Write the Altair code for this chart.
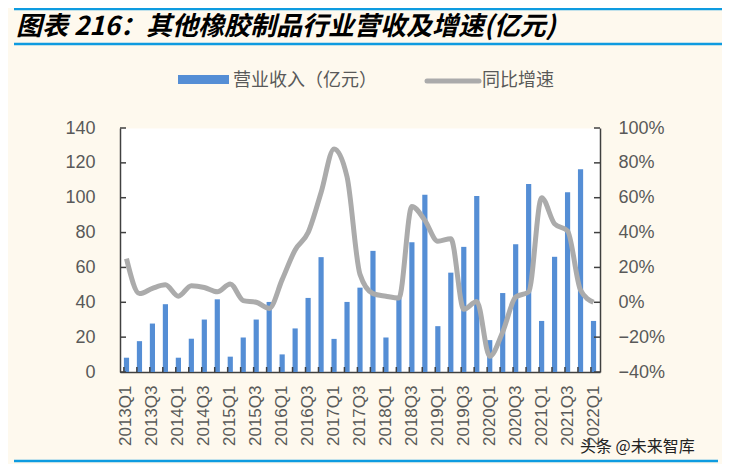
import altair as alt
import pandas as pd

quarters = [
    "2013Q1", "2013Q2", "2013Q3", "2013Q4",
    "2014Q1", "2014Q2", "2014Q3", "2014Q4",
    "2015Q1", "2015Q2", "2015Q3", "2015Q4",
    "2016Q1", "2016Q2", "2016Q3", "2016Q4",
    "2017Q1", "2017Q2", "2017Q3", "2017Q4",
    "2018Q1", "2018Q2", "2018Q3", "2018Q4",
    "2019Q1", "2019Q2", "2019Q3", "2019Q4",
    "2020Q1", "2020Q2", "2020Q3", "2020Q4",
    "2021Q1", "2021Q2", "2021Q3", "2021Q4",
    "2022Q1",
]
revenue = [
    8.2, 17.7, 27.8, 38.9,
    8.2, 19.1, 30.1, 41.7,
    8.8, 19.8, 30.1, 40.2,
    10.1, 25.0, 42.5, 65.9,
    19.0, 40.2, 48.4, 69.5,
    19.8, 42.5, 74.5, 101.7,
    26.3, 57.0, 71.8, 101.0,
    18.3, 45.3, 73.3, 107.8,
    29.3, 66.1, 103.2, 116.4,
    29.3,
]
growth_pct = [
    25, 5, 8, 10,
    3.5, 9.5, 8.5, 6,
    10.5, 1, 0, -3.5,
    13, 30, 40, 63,
    88, 72, 16, 5,
    3.5, 2.5, 55, 47,
    35, 36.5, -4, 0.5,
    -31, -17, 3, 6,
    60, 45, 41, 7,
    0,
]
left_ticks = [0, 20, 40, 60, 80, 100, 120, 140]
right_ticks = [-0.4, -0.2, 0.0, 0.2, 0.4, 0.6, 0.8, 1.0]
label_quarters = quarters[::2]

TITLE = "图表 216：其他橡胶制品行业营收及增速(亿元)"
LEG1 = "营业收入（亿元）"
LEG2 = "同比增速"
WATERMARK = "头条 @未来智库"

df = pd.DataFrame({"q": quarters, "rev": revenue, "g": [v / 100 for v in growth_pct]})

W, H = 480, 244
BLUE = "#558ED5"
GRAYLINE = "#ABABAB"
AXIS = "#404040"
TXT = "#595959"
BG = "#FEF9EE"
RULEBLUE = "#0E9BE0"
LFONT = "Liberation Sans"
CJK = "Noto Sans CJK SC"

xscale = alt.Scale(paddingInner=0.6, paddingOuter=0.3)

bars = alt.Chart(df).mark_bar(color=BLUE).encode(
    x=alt.X("q:N", sort=quarters, scale=xscale, title=None,
            axis=alt.Axis(values=label_quarters, labelAngle=-90, ticks=False,
                          labelPadding=13, labelFontSize=17, labelColor=TXT,
                          labelFont=LFONT, domainColor=AXIS, domainWidth=1.5)),
    y=alt.Y("rev:Q", scale=alt.Scale(domain=[0, 140], nice=False), title=None,
            axis=alt.Axis(values=left_ticks, ticks=False, grid=False, labelPadding=25,
                          labelFontSize=18, labelColor=TXT, labelFont=LFONT,
                          domainColor=AXIS, domainWidth=1.5)),
)

left_tick_marks = alt.Chart(pd.DataFrame({"v": left_ticks})).mark_rule(
    color=AXIS, strokeWidth=1.5
).encode(
    y=alt.Y("v:Q", scale=alt.Scale(domain=[0, 140], nice=False), axis=None),
    x=alt.value(0), x2=alt.value(6),
)

line = alt.Chart(df).mark_line(color=GRAYLINE, strokeWidth=5, interpolate="monotone").encode(
    x=alt.X("q:N", sort=quarters),
    y=alt.Y("g:Q", scale=alt.Scale(domain=[-0.4, 1.0], nice=False), title=None,
            axis=alt.Axis(orient="right", format=".0%", values=right_ticks, ticks=False,
                          grid=False, labelPadding=18, labelFontSize=18, labelColor=TXT,
                          labelFont=LFONT, domainColor=AXIS, domainWidth=1.5)),
)

right_tick_marks = alt.Chart(pd.DataFrame({"v": right_ticks})).mark_rule(
    color=AXIS, strokeWidth=1.5
).encode(
    y=alt.Y("v:Q", scale=alt.Scale(domain=[-0.4, 1.0], nice=False), axis=None),
    x=alt.value(W - 6), x2=alt.value(W),
)

x_tick_marks = alt.Chart(df).mark_rule(color=AXIS, strokeWidth=1.5).encode(
    x=alt.X("q:N", sort=quarters, bandPosition=0),
    y=alt.value(H), y2=alt.value(H - 5),
)

one = pd.DataFrame({"a": [0]})

title = alt.Chart(one).mark_text(
    text=TITLE, font=CJK, fontSize=26, fontWeight="bold", fontStyle="italic",
    align="left", baseline="middle", color="#000000",
).encode(x=alt.value(-104), y=alt.value(-101))

rule_top = alt.Chart(one).mark_rule(color=RULEBLUE, strokeWidth=2.5).encode(
    x=alt.value(-106), x2=alt.value(602), y=alt.value(-119))
rule_mid = alt.Chart(one).mark_rule(color=RULEBLUE, strokeWidth=2.5).encode(
    x=alt.value(-106), x2=alt.value(602), y=alt.value(-84))
rule_bot = alt.Chart(one).mark_rule(color=RULEBLUE, strokeWidth=2.5).encode(
    x=alt.value(-106), x2=alt.value(598), y=alt.value(333))

leg_rect = alt.Chart(one).mark_rect(color=BLUE).encode(
    x=alt.value(58), x2=alt.value(109), y=alt.value(-53), y2=alt.value(-44))
leg_text1 = alt.Chart(one).mark_text(
    text=LEG1, font=CJK, fontSize=18, color=TXT, align="left", baseline="middle"
).encode(x=alt.value(113), y=alt.value(-47))
leg_line = alt.Chart(one).mark_rule(color=GRAYLINE, strokeWidth=5, strokeCap="round").encode(
    x=alt.value(307), x2=alt.value(359), y=alt.value(-47))
leg_text2 = alt.Chart(one).mark_text(
    text=LEG2, font=CJK, fontSize=18, color=TXT, align="left", baseline="middle"
).encode(x=alt.value(362), y=alt.value(-47))

watermark = alt.Chart(one).mark_text(
    text=WATERMARK, font=CJK, fontSize=16, color="#222222", align="left", baseline="middle"
).encode(x=alt.value(460), y=alt.value(319))

chart = alt.layer(
    bars, left_tick_marks, line, right_tick_marks, x_tick_marks,
    title, rule_top, rule_mid, rule_bot, leg_rect, leg_text1, leg_line, leg_text2, watermark,
).resolve_scale(y="independent").properties(
    width=W, height=H,
    autosize=alt.AutoSizeParams(type="none"),
    padding={"left": 112, "top": 120, "right": 122, "bottom": 92},
    background=BG,
).configure_view(fill="white", stroke="transparent")

chart.save("out.html", embed_options={"renderer": "svg", "actions": False})
